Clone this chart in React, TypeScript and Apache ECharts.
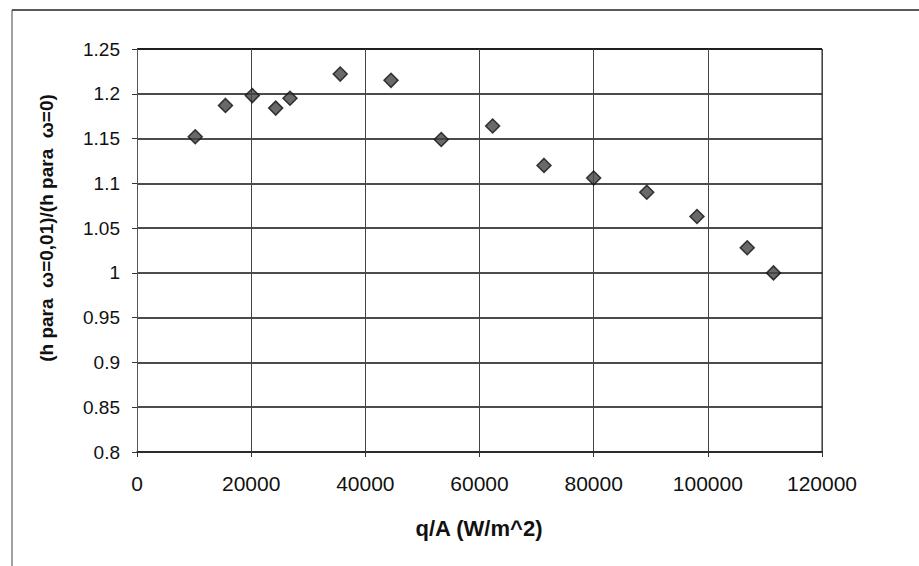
import React, { useEffect, useRef } from "react";
import * as echarts from "echarts";

const qA: number[] = [10200, 15500, 20200, 24300, 26800, 35600, 44500, 53300, 62300, 71300, 80000, 89300, 98100, 106900, 111500];
const ratio: number[] = [1.152, 1.187, 1.198, 1.184, 1.195, 1.222, 1.215, 1.149, 1.164, 1.12, 1.106, 1.09, 1.063, 1.028, 1.0];
const yTitle = "(h para  ω=0,01)/(h para  ω=0)";
const xTitle = "q/A (W/m^2)";

export default function App() {
  const ref = useRef<HTMLDivElement>(null);
  useEffect(() => {
    document.body.style.margin = "0";
    const chart = echarts.init(ref.current!, null, { renderer: "svg" });
    const font = "'Liberation Sans', Arial, sans-serif";
    chart.setOption({
      animation: false,
      backgroundColor: "#fff",
      grid: { left: 137, top: 49, width: 685, height: 403 },
      xAxis: {
        type: "value",
        min: 0,
        max: 120000,
        interval: 20000,
        axisLine: { show: true, lineStyle: { color: "#222", width: 1.5 } },
        axisTick: { show: true, length: 5, lineStyle: { color: "#333" } },
        axisLabel: {
          color: "#111",
          fontSize: 21,
          fontFamily: font,
          margin: 21,
          showMaxLabel: true,
          formatter: (v: number) => String(v),
        },
        splitLine: { show: true, lineStyle: { color: "#444", width: 1 } },
      },
      yAxis: {
        type: "value",
        min: 0.8,
        max: 1.25,
        interval: 0.05,
        axisLine: { show: true, lineStyle: { color: "#555", width: 1 } },
        axisTick: { show: true, length: 5, lineStyle: { color: "#333" } },
        axisLabel: {
          color: "#111",
          fontSize: 19,
          fontFamily: font,
          margin: 17,
          formatter: (v: number) => String(parseFloat(v.toFixed(2))),
        },
        splitLine: { show: true, lineStyle: { color: "#111", width: 1.5 } },
      },
      series: [
        {
          type: "scatter",
          data: qA.map((x, i) => [x, ratio[i]]),
          symbol: "diamond",
          symbolSize: 14,
          itemStyle: { color: "#444", borderColor: "#111", borderWidth: 1.5 },
        },
      ],
      graphic: [
        { type: "line", shape: { x1: 12, y1: 10, x2: 919, y2: 10 }, style: { stroke: "#222", lineWidth: 1.5 } },
        { type: "line", shape: { x1: 12, y1: 10, x2: 12, y2: 566 }, style: { stroke: "#444", lineWidth: 1 } },
        { type: "line", shape: { x1: 137, y1: 49, x2: 822, y2: 49 }, style: { stroke: "#111", lineWidth: 1.5 } },
        { type: "line", shape: { x1: 822, y1: 49, x2: 822, y2: 452 }, style: { stroke: "#222", lineWidth: 1 } },
        {
          type: "text",
          x: 46,
          y: 228,
          rotation: Math.PI / 2,
          style: {
            text: yTitle,
            fontSize: 19,
            fontWeight: "bold",
            fontFamily: font,
            fill: "#111",
            textAlign: "center",
            textVerticalAlign: "middle",
          },
        },
        {
          type: "text",
          x: 479,
          y: 528,
          style: {
            text: xTitle,
            fontSize: 22,
            fontWeight: "bold",
            fontFamily: font,
            fill: "#111",
            textAlign: "center",
            textVerticalAlign: "middle",
          },
        },
      ],
    });
    return () => chart.dispose();
  }, []);
  return <div ref={ref} style={{ position: "absolute", left: 0, top: 0, width: 919, height: 566 }} />;
}
